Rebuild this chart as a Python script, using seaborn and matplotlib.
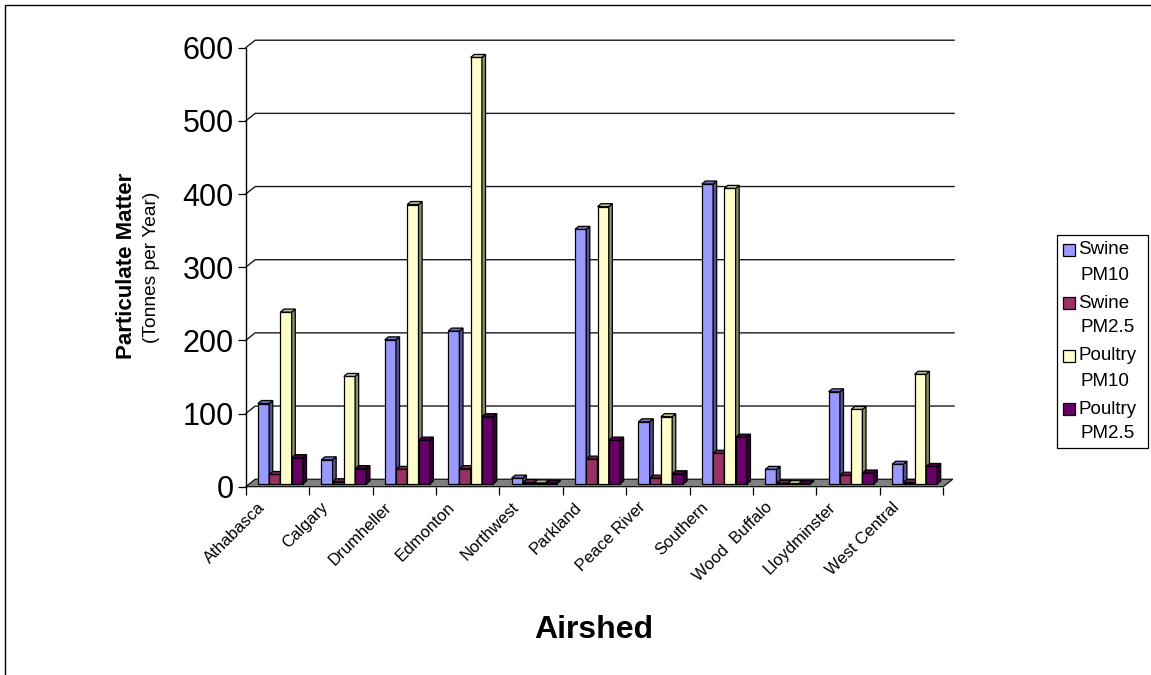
import numpy as np
import pandas as pd
import seaborn as sns
import matplotlib
matplotlib.use("Agg")
import matplotlib.pyplot as plt
from matplotlib.patches import Polygon, Rectangle
from matplotlib.lines import Line2D
from matplotlib.transforms import IdentityTransform, offset_copy

# Data: particulate matter emissions by airshed (tonnes per year)
airsheds = ["Athabasca", "Calgary", "Drumheller", "Edmonton", "Northwest",
            "Parkland", "Peace River", "Southern", "Wood  Buffalo",
            "Lloydminster", "West Central"]
series_names = ["Swine\nPM10", "Swine\nPM2.5", "Poultry\nPM10", "Poultry\nPM2.5"]
swine_pm10 = [110, 33, 197, 209, 8, 348, 85, 410, 20, 126, 27]
swine_pm25 = [13, 3, 20, 21, 2, 34, 8, 42, 1, 12, 2]
poultry_pm10 = [235, 147, 382, 583, 1.5, 379, 92, 404, 0.5, 102, 150]
poultry_pm25 = [36, 21, 60, 92, 1, 60, 14, 64, 0.5, 15, 24]
y_ticks = [0, 100, 200, 300, 400, 500, 600]
colors = ["#9999FF", "#993366", "#FFFFCC", "#660066"]

df = pd.DataFrame({
    "Airshed": np.tile(airsheds, 4),
    "series": np.repeat(series_names, len(airsheds)),
    "value": np.concatenate([swine_pm10, swine_pm25, poultry_pm10, poultry_pm25]),
})

sns.set_theme(style="white")
plt.rcParams["font.family"] = ["Liberation Sans", "DejaVu Sans"]

W, H = 1151, 675
fig = plt.figure(figsize=(W / 100, H / 100), dpi=100)
fig.patch.set_facecolor("white")

# front plane of the plot box in pixels
left_px, right_px, zero_px, top_px = 245.7, 943.3, 486.7, 47.7
ax = fig.add_axes([left_px / W, (H - zero_px) / H,
                   (right_px - left_px) / W, (zero_px - top_px) / H])
ax.set_xlim(-0.5, len(airsheds) - 0.5)
ax.set_ylim(0, 600)
ax.patch.set_alpha(0)

# depth offsets (pixels): back wall, bar front face, bar depth
WX, WY = 9.5, 7.5
FX, FY = 3.0, 2.7
DX, DY = 3.6, 3.0

sns.barplot(data=df, x="Airshed", y="value", hue="series", palette=colors,
            width=0.71, saturation=1, edgecolor="black", linewidth=0.9,
            legend=False, ax=ax, errorbar=None)
ax.set_xlim(-0.5, len(airsheds) - 0.5)
ax.set_ylim(0, 600)

T = ax.transData
ident = IdentityTransform()

# back wall gridlines with their receding segments on the side wall
x_left_d, _ = T.transform((-0.5, 0))
x_right_d, _ = T.transform((len(airsheds) - 0.5, 0))
for v in y_ticks[1:]:
    _, yd = T.transform((0, v))
    ax.add_line(Line2D([x_left_d, x_left_d + WX, x_right_d + WX + 1.5],
                       [yd, yd + WY, yd + WY], transform=ident,
                       color="#1a1a1a", lw=1.0, zorder=0.5, clip_on=False))

# floor
_, y0d = T.transform((0, 0))
ax.add_patch(Polygon([(x_left_d, y0d), (x_left_d + WX, y0d + WY),
                      (x_right_d + WX, y0d + WY), (x_right_d, y0d)],
                     closed=True, transform=ident, facecolor="#808080",
                     edgecolor="black", lw=0.8, zorder=1, clip_on=False))


def shade(c, f):
    r, g, b = matplotlib.colors.to_rgb(c)
    return (r * f, g * f, b * f)


# give each bar a side and top face
bars = []
for ci, cont in enumerate(ax.containers):
    for p in cont.patches:
        bars.append((p.get_x(), ci, p))
bars.sort(key=lambda t: t[0])
front_tr = offset_copy(T, fig=fig, x=FX, y=FY, units="dots")
for rank, (_, ci, p) in enumerate(bars):
    z = 2 + rank * 0.01
    p.set_transform(front_tr)
    p.set_zorder(z)
    p.set_clip_on(False)
    x = p.get_x()
    w = p.get_width()
    h = p.get_height()
    xa, ya = T.transform((x, 0))
    xb, yb = T.transform((x + w, h))
    xa += FX; xb += FX; ya += FY; yb += FY
    side = Polygon([(xb, ya), (xb + DX, ya + DY), (xb + DX, yb + DY), (xb, yb)],
                   closed=True, transform=ident, facecolor=shade(colors[ci], 0.55),
                   edgecolor="black", lw=0.9, zorder=z + 0.001, clip_on=False)
    top = Polygon([(xa, yb), (xa + DX, yb + DY), (xb + DX, yb + DY), (xb, yb)],
                  closed=True, transform=ident, facecolor=shade(colors[ci], 0.75),
                  edgecolor="black", lw=0.9, zorder=z + 0.001, clip_on=False)
    ax.add_patch(side)
    ax.add_patch(top)

# axes styling
for s in ["top", "right", "bottom"]:
    ax.spines[s].set_visible(False)
ax.spines["left"].set_color("black")
ax.spines["left"].set_linewidth(1.0)
ax.spines["left"].set_zorder(1.5)
ax.set_yticks(y_ticks)
ax.set_yticklabels([str(v) for v in y_ticks], fontsize=22)
ax.tick_params(axis="y", direction="out", length=5.5, width=0.9, color="black",
               pad=3, left=True, labelcolor="black")
ax.set_xticks(np.arange(-0.5, len(airsheds), 1.0))
ax.set_xticklabels([])
ax.tick_params(axis="x", direction="out", length=5.8, width=0.9, color="black",
               bottom=True)
ax.set_xlabel("")
ax.set_ylabel("")
ax.grid(False)

# category labels
lbl_tr = offset_copy(ax.get_xaxis_transform(), fig=fig, x=-15, y=-18, units="dots")
for i, name in enumerate(airsheds):
    ax.text(i, 0, name, transform=lbl_tr, rotation=45, rotation_mode="anchor",
            ha="right", va="center", fontsize=12, color="black", clip_on=False)

# axis titles
fig.text(127 / W, 1 - 266 / H, "Particulate Matter", rotation=90, ha="center",
         va="center", fontsize=16, fontweight="bold", color="black")
fig.text(151 / W, 1 - 267 / H, "(Tonnes per Year)", rotation=90, ha="center",
         va="center", fontsize=13.8, color="black")
fig.text(594 / W, 1 - 630 / H, "Airshed", ha="center", va="center",
         fontsize=23, fontweight="bold", color="black")

# legend
box_l, box_t, box_r, box_b = 1056.7, 235, 1148, 448
fig.add_artist(Rectangle((box_l / W, 1 - box_b / H), (box_r - box_l) / W,
                         (box_b - box_t) / H, transform=fig.transFigure,
                         facecolor="white", edgecolor="black", lw=0.9))
for k, (name, c) in enumerate(zip(series_names, colors)):
    y1 = 250 + 53 * k
    sq = 12
    fig.add_artist(Rectangle((1063 / W, 1 - (y1 + sq / 2) / H), sq / W, sq / H,
                             transform=fig.transFigure, facecolor=c,
                             edgecolor="black", lw=0.9))
    first, second = name.split("\n")
    fig.text(1078 / W, 1 - y1 / H, first, ha="left", va="center",
             fontsize=13.5, color="black")
    fig.text(1080 / W, 1 - (y1 + 25) / H, second, ha="left", va="center",
             fontsize=13.5, color="black")

# chart border
fig.add_artist(Rectangle((5 / W, -0.01), 1.02, 1 - 5 / H + 0.01,
                         transform=fig.transFigure, fill=False,
                         edgecolor="black", lw=1.0))

fig.savefig("out.png", dpi=100, facecolor="white")
